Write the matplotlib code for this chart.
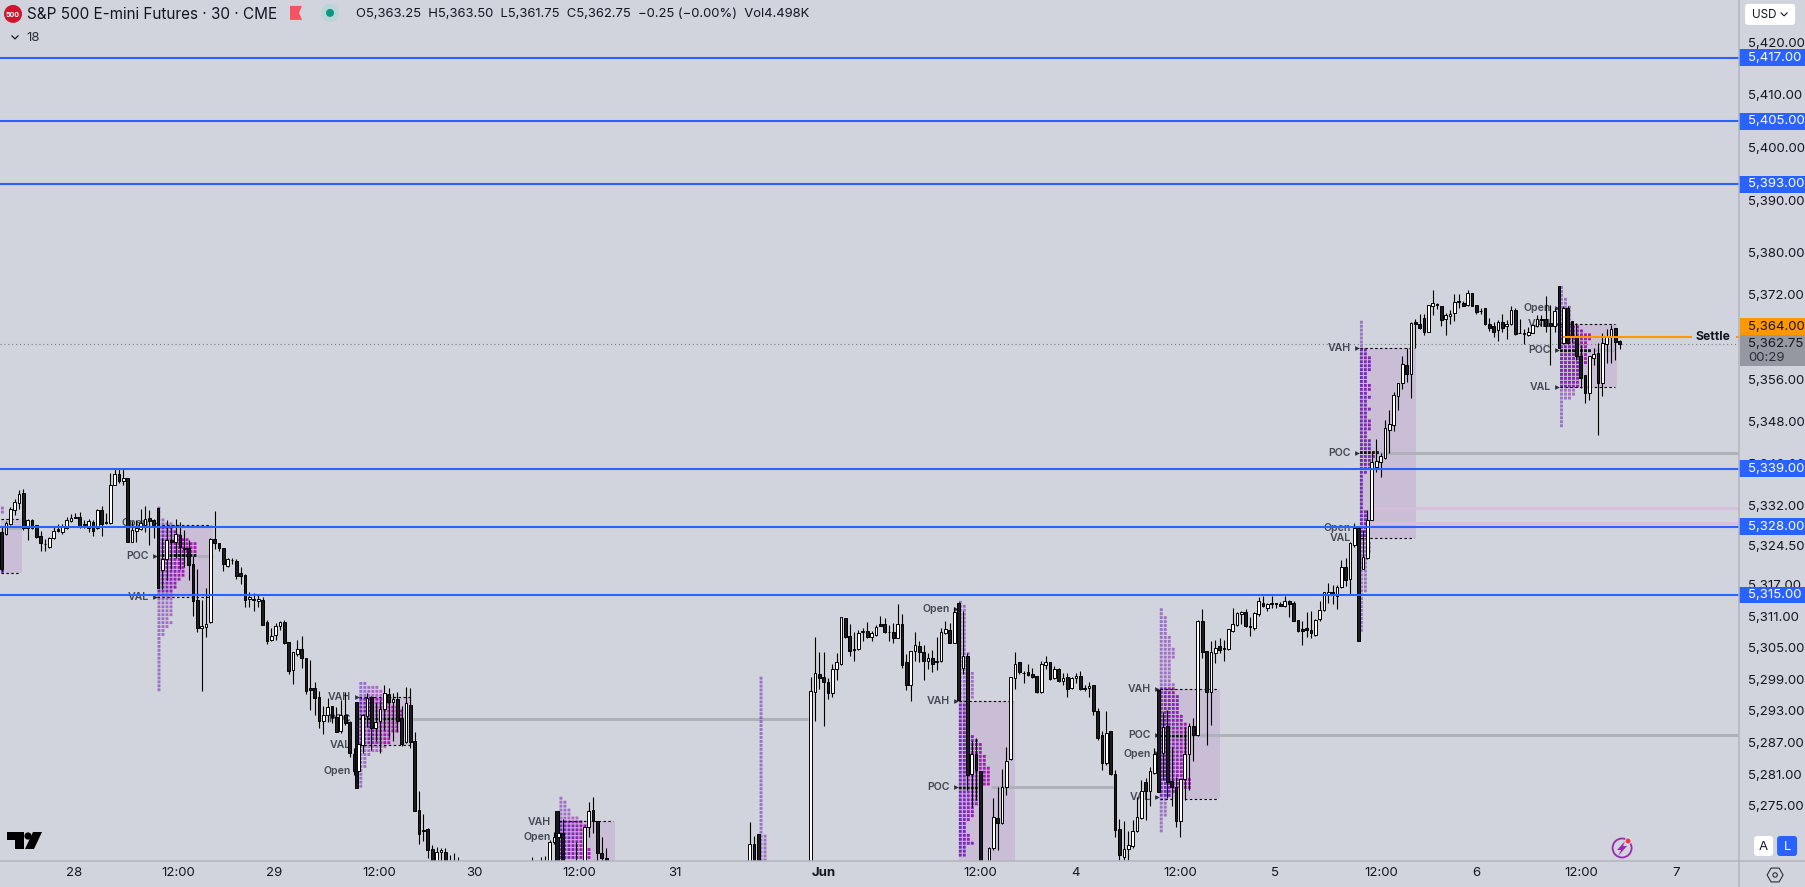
import numpy as np
import matplotlib
matplotlib.use("Agg")
import matplotlib.pyplot as plt
from matplotlib.patches import Rectangle, Circle, Polygon, FancyBboxPatch, RegularPolygon

plt.rcParams['font.family'] = ['Inter', 'DejaVu Sans']

nan = float("nan")

# 30 min bars, index 0 is the left edge of the picture. nan = bar is off the chart
opens = [
    5327,5326.6,5328.4,5331.2,5332.4,5334.3,5327.7,5329.3,5328.3,5326.2,
    5324.7,5324.2,5325.8,5327.5,5327,5327.7,5329.1,5329.8,5329.8,5328.5,
    5327.7,5328.9,5327.7,5331.2,5328.9,5328.6,5335.8,5338,5336.7,5337.2,
    5325.1,5327.2,5327.5,5328.3,5329.6,5329.3,5331.6,5319.8,5321.8,5325.4,
    5325,5326.4,5324,5324,5320.8,5314.1,5308.7,5309,5309.8,5325.6,
    5324.8,5323.9,5320.5,5321.6,5321.4,5319.1,5318.8,5314.2,5314.2,5313.8,
    5314.1,5309.8,5306.4,5307.4,5309.2,5309.8,5306,5300.8,5303.8,5304.7,
    5303,5297.3,5297.3,5295.6,5291,5292.3,5293.9,5291.9,5289.2,5292.3,
    5290.95,5284.8,5281.6,5286.5,5292.1,5295.7,5289.7,5291,5293.3,5296.2,
    5294.6,5295.3,5291.6,5287,5294.1,5287.3,5274.2,5270.4,5270.5,5266.7,
    5263.9,5266.1,5266.1,5263,5263,5263] + [nan]*16 + [
    5263,nan,5263,5263,5262,5268,5269.1,5269.8,nan,nan,5264,nan,5262,5271,5274.2,5272,5266,5265] + [nan]*32 + [
    5262,5267.7,5269.7] + [nan]*11 + [
    5260,5296.5,5300,5299.4,5298.4,5296.3,5301,5301.9,5310.6,5307.2,
    5304.7,5304.7,5307.9,5308.2,5307.1,5307.4,5309.4,5309.5,5308,5308,
    5306.9,5309.5,5302.2,5297.9,5304.4,5305.3,5304.1,5302.5,5303,5302.5,
    5302.4,5307.7,5308.4,5305.9,5313.5,5301.1,5303.4,5281,5284.8,5281.5,nan,
    5263,5266.9,5272.6,5271.7,5278.5,5283.8,5299.2,5302.2,5300.2,5300.3,
    5300,5299.6,5296.5,5301.7,5302.2,5299.2,5301,5298.6,5299.4,5297.3,
    5299.2,5299.6,5297.3,5297.3,5298,5293,5288.4,5283,5289.2,5281,
    5270.5,5265.3,5266.7,5267.3,5270.1,5272.6,5279.4,5277.7,5281.1,5297,
    5284.9,5290.1,5279.6,5278.6,5272,5280,5284.8,5290.1,5288.4,5310.1,
    5304.3,5296.5,5304,5305.3,5304.9,5304.8,5308.2,5309.3,5311.3,5311.7,
    5309.2,5308.7,5311.4,5313.4,5312.6,5313.4,5313.4,5313.2,5313,5313.9,
    5313.5,5310.2,5308.5,5308.7,5308.4,5307.4,5310.4,5312.2,5315.2,5315.5,
    5314.8,5316.5,5320.3,5318,5324.5,5327.7,5320,5322,5329.3,5339.4,
    5340.2,5341.1,5346.4,5347.3,5352.8,5355.2,5358.7,5356.9,5366.8,5366.4,
    5367.7,5365,5369.8,5370.2,5369.8,5367.4,5367.9,5368.6,5370.8,5370.5,
    5370,5372.3,5370,5369,5369.5,5366.4,5366.1,5365.3,5366.8,5366,
    5366.4,5369.1,5364.7,5364.7,5364.3,5364.8,5366,5367.5,5367.5,5366.6,
    5366,5373.6,5362.8,5369.6,5367,5364,5360.3,5356.8,5353.3,5360.1,
    5360.9,5355.2,5362.7,5364,5365.7,5363.25]

closes = [
    5320,5328.6,5331.3,5332.6,5334.1,5327.7,5329.3,5327.7,5326.1,5324.8,
    5324.6,5325.8,5327.1,5327.2,5327.9,5329.3,5329.6,5329.65,5328,5328.2,
    5329.1,5327.2,5331.2,5328.5,5328.6,5335.9,5338,5336.7,5337.2,5325,
    5327.4,5327.7,5328.6,5329.4,5329.1,5328.3,5316.3,5321.9,5325.4,5325,
    5326.6,5324.2,5323.7,5320.7,5313.8,5308.7,5309.1,5309.5,5325.6,5324.8,
    5324,5320.8,5321.8,5321.7,5318.6,5318.6,5314.1,5314.6,5314.1,5314.3,
    5309.3,5306.3,5307.2,5309.1,5309.8,5305.8,5300.6,5304.1,5304.7,5303.1,
    5296.8,5297,5295.5,5291,5292.3,5293.8,5291.8,5289,5292.3,5290.6,
    5285,5281.5,5286.7,5292.3,5295.4,5289.8,5290.8,5293.3,5296.3,5294.6,
    5295.2,5291,5286.7,5294.4,5287.1,5273.9,5269.6,5270.1,5266.6,5264,
    5266.1,5266.5,5263,5262,5262,5262] + [nan]*16 + [
    5262,nan,5262,5262,5268,5269.1,5269.8,5262,nan,nan,5262,nan,5271,5274,5272,5266,5265,5263.5] + [nan]*32 + [
    5267.7,5262,5262] + [nan]*11 + [
    5296.7,5300.1,5299.2,5298.4,5296.3,5301,5302.2,5310.8,5307.1,5304.4,
    5304.6,5307.7,5308.2,5307.1,5307.7,5309,5309.2,5307.9,5307.9,5306.8,
    5309.5,5301.7,5297.9,5304.4,5305.5,5304.1,5302.5,5303,5301.8,5302.2,
    5307.9,5308.5,5305.9,5311.8,5295.1,5303.4,5280.8,5284.8,5281.8,5262,nan,
    5266.9,5272.8,5271.7,5278.5,5283.4,5299.4,5301.9,5300.3,5300.1,5299.8,
    5299.4,5296.5,5301.9,5302.2,5299,5301,5298.6,5299.2,5297.2,5299.2,
    5299.6,5297.2,5297.2,5297.8,5292.9,5287.9,5283.1,5288.8,5281,5270.3,
    5265.6,5266.7,5267.5,5270.1,5272.8,5277.7,5277.7,5281.5,5284.8,5277.5,
    5290,5279.4,5278.5,5272,5280,5284.8,5290.1,5288.4,5310.1,5304.1,
    5296.5,5304.1,5304.9,5304.6,5304.7,5308.5,5309.4,5311.5,5311.7,5309.2,
    5309,5311.5,5313.9,5312.9,5313.2,5313.2,5313.2,5313,5313.9,5313.2,
    5310.1,5308.2,5308.2,5308.4,5307.7,5310.2,5312.2,5315.5,5315.6,5315.1,
    5316.5,5320.3,5317.9,5324.8,5327.7,5306.3,5322.3,5329.3,5340.3,5340.5,
    5341.4,5346.7,5347.4,5352.9,5355.2,5358.8,5356.9,5366.6,5366.5,5365.7,
    5365,5370,5370.4,5370,5367.2,5368.2,5368.4,5370.7,5370.6,5369.9,
    5372.3,5369.9,5368.8,5369,5366.4,5365.8,5365,5366.8,5365.8,5366.4,
    5369.1,5364.6,5364.7,5364.5,5365,5366.2,5367.4,5367.2,5366,5366,
    5369,5362,5369.6,5362.8,5364.1,5360.3,5356.3,5353.3,5360.3,5360.8,
    5355.2,5362.8,5364.1,5365.5,5363.1,5362.75]

highs = [
    5328,5329,5331.7,5333.2,5335,5335.1,5329.4,5329.4,5328.3,5327.2,
    5325.6,5326.1,5328,5328.5,5328.4,5329.8,5330.4,5330.6,5330.8,5329.3,
    5329.4,5329.3,5331.3,5331.9,5330.6,5338.1,5339,5338.9,5339,5337.2,
    5329,5329.2,5331.3,5331.9,5331.2,5329.4,5331.6,5325.8,5329.3,5328.3,
    5329.4,5328.9,5327.3,5325.5,5322.5,5319.9,5314,5316.3,5325.8,5331,
    5324.9,5324,5322,5322,5321.8,5320.3,5319,5315.5,5315.3,5315,
    5314.7,5310.3,5308.7,5309.6,5310.1,5310.3,5306.1,5304.2,5306.5,5307.2,
    5303,5302.7,5298.4,5296.8,5294,5295.4,5293.9,5293.8,5295,5296.6,
    5291,5285.9,5287,5292.4,5296.3,5295.8,5294.4,5295.1,5298,5297.3,
    5296.3,5296.5,5293.9,5297.6,5297.3,5289,5277.7,5273.4,5270.7,5267.5,
    5267.2,5266.9,5266.9,5265.6,5266,5265.3] + [nan]*16 + [
    5265.3,nan,5265.3,5265.5,5268.5,5270,5270,5272.5,nan,nan,5268,nan,5271,5275.6,5276.6,5272,5269,5266.9] + [nan]*32 + [
    5271.8,5269.2,5269.7] + [nan]*11 + [
    5299.4,5307,5304.1,5304.1,5299.2,5301.9,5303.9,5310.9,5310.6,5309.5,
    5308,5308.4,5308.8,5309.8,5308.1,5309.3,5311,5310.6,5309.3,5309.6,
    5313.3,5311.4,5303.7,5304.4,5308,5306.3,5305.5,5303.9,5304.6,5307,
    5308.7,5310.1,5309.6,5312.8,5313.6,5312,5303.9,5287.2,5287.8,5281.5,nan,
    5267.2,5276.4,5278.6,5282,5286.1,5299.4,5304.1,5302.2,5300.5,5301.9,
    5301.1,5299.7,5302.5,5303.4,5302.2,5301.5,5301.1,5300.1,5300.1,5299.4,
    5300.1,5300.5,5297.9,5298.4,5298,5293.6,5289.1,5292.9,5289.2,5281.8,
    5272.4,5272,5270.1,5272.3,5276.7,5279.9,5280.2,5282.4,5285.9,5297,
    5292.7,5293.2,5286.2,5280.5,5280,5290,5290.6,5291.6,5310.3,5312.3,
    5304.4,5306.3,5306.5,5306.8,5306.5,5308.6,5312.5,5311.8,5312,5312.4,
    5310.9,5311.7,5314.7,5314.9,5313.4,5314.9,5313.4,5313.7,5314.9,5314.1,
    5313.9,5310.2,5310.1,5311.8,5312,5310.4,5313.9,5315.6,5317.2,5316.9,
    5316.9,5321.7,5322,5325,5328.6,5327.7,5327.3,5331.2,5342,5344.6,
    5341.9,5348.2,5350.1,5353.6,5355.2,5360.3,5361.9,5366.8,5367.4,5368.3,
    5368.3,5370.1,5373,5370.5,5369.8,5368.5,5369.1,5372.1,5372.1,5370.8,
    5373,5372.3,5370,5369.5,5369.5,5367.6,5366.8,5367.2,5368.3,5367.2,
    5369.8,5369.5,5367.4,5365.5,5365.9,5366.5,5368.2,5368.2,5371.7,5370.1,
    5369.5,5373.6,5369.8,5369.8,5367,5366.6,5362.5,5356.8,5360.3,5361.9,
    5362.8,5364.7,5365.5,5366.3,5365.7,5363.5]

lows = [
    5319.5,5326.4,5328.3,5330.2,5331.3,5327.4,5325.5,5327.6,5325.9,5323.4,
    5323.4,5324,5325.7,5327,5326.6,5327.5,5328.9,5329.6,5327.7,5327.7,
    5327,5326.2,5327.5,5326.2,5328.5,5328.5,5335.8,5336.2,5335.9,5325,
    5325,5325,5327.3,5327,5324.5,5325.8,5316.3,5316.1,5317.9,5320,
    5322,5320,5320.4,5317.9,5311.1,5308,5296.7,5307,5309.6,5323.7,
    5323.4,5319.6,5320.4,5320.9,5318,5317.1,5312.8,5312.8,5311.9,5312.8,
    5309.3,5305.7,5306.2,5306.5,5308.4,5305.7,5300,5298.1,5303.4,5301.1,
    5296.2,5293.2,5292.2,5289.7,5288.6,5290.8,5290.6,5289,5288.7,5290.3,
    5284.2,5280.8,5281.4,5285,5290,5285.6,5287.2,5285,5289.4,5288.1,
    5287.2,5289,5286.3,5286.8,5285.9,5273.9,5267.8,5268.2,5265,5264,
    5263,5263,5263,5261,5261,5261] + [nan]*16 + [
    5262,nan,5262,5262,5262,5267.8,5269,5262,nan,nan,5261,nan,5262,5269,5269.8,5264,5263,5263] + [nan]*32 + [
    5262,5262,5262] + [nan]*11 + [
    5260,5291,5297.2,5290.1,5295.3,5295.6,5298.9,5301.7,5306.8,5303.4,
    5302.5,5304.6,5306.3,5306.8,5306.2,5307.3,5309.2,5307.7,5306.3,5305.8,
    5306.8,5301.1,5297,5294.9,5302.4,5302.2,5298.9,5301,5300.3,5300.8,
    5302.2,5307.6,5305.8,5305.8,5295.1,5300,5278,5274.8,5276,5262,nan,
    5263,5266.5,5266.5,5271.5,5277,5283.6,5297.1,5300,5298.2,5299.6,
    5299.3,5296.4,5296.4,5301,5298.8,5299,5298.4,5298,5295.7,5297.2,
    5298.2,5297,5296.7,5295.7,5292.2,5287.5,5281.8,5282.8,5280.9,5269,
    5264.6,5264.6,5264.6,5267,5270,5272.4,5272.3,5275,5281,5277.5,
    5279.9,5276.4,5275,5271,5269.1,5276,5278,5283.4,5288.3,5303,
    5286.5,5290.3,5302,5304,5302.5,5304.6,5308,5309.2,5309.5,5309,
    5307.2,5308.4,5311,5312.7,5312,5312.5,5312.6,5312.9,5312.8,5310.9,
    5310,5307.9,5305.5,5307,5306.8,5307.2,5310,5312,5313.4,5313.2,
    5312.3,5316.4,5316.8,5315.2,5324.2,5306.3,5319.9,5321.8,5329.2,5338.4,
    5337.5,5340.8,5341.9,5346.2,5350.1,5354.1,5355.5,5352.4,5361.9,5365.5,
    5364.4,5364.9,5368.2,5369.3,5366,5364.4,5366.5,5367,5369.6,5369.9,
    5369.9,5369.9,5368.3,5368.3,5366.2,5365.2,5364,5363.3,5365,5363.6,
    5366.3,5364.4,5364.7,5362.7,5364.2,5364.7,5365.9,5366,5365,5358.7,
    5365,5362,5362.7,5362.7,5363,5359.6,5354.4,5351.5,5352,5358.7,
    5345.4,5352.7,5359,5359,5359.6,5361.75]

# the dark session bars that sit behind a white candle
session_bar_idx = [81.7, 127.7]
session_bar_top = [5294.6, 5274]
session_bar_bottom = [5278.3, 5262]

# day ticks along the bottom
tick_pos = [16.7, 40.6, 62.7, 86.8, 108.6, 132.8, 154.8, 188.9, 225, 246.8, 270.9, 292.8, 317.1, 339, 363.1, 384.9]
tick_labels = ['28', '12:00', '29', '12:00', '30', '12:00', '31', 'Jun', '12:00', '4', '12:00', '5', '12:00', '6', '12:00', '7']

price_ticks = [5420, 5410, 5400, 5390, 5380, 5372, 5356, 5348, 5340, 5332, 5324.5, 5317, 5311, 5305, 5299, 5293, 5287, 5281, 5275]
blue_levels = [5417, 5405, 5393, 5339, 5328, 5315]
settle = 5364
last_price = 5362.75

# volume profile rows per session, top row first, number of dots per row
prof0 = [1, 1] + [0]*13 + [1, 1]
prof1 = [1,1,1,2,4,4,5,6,8,10,10,10,10,7,7,7,7,7,6,5,5,4,4,4,4,4,4,4,3,4,3,2,2] + [1]*14
prof2 = [2,5,6,7,7,8,10,11,11,11,10,10,10,8,8,8,7,6,3,2,2,2,1,1,1,1,1]
prof3 = [1,2,2,3,3,5,6,7,7,7,7,6,6,8,8,8]
prof4 = [1]*40 + [2]*7
prof5 = [1,2,2,2,2,2,2,2,2,2,2,2,2,3,3,3,3,3,4,4,4,4,4,4,4,2,2,2,2,2,2,2,2,2,4,5,6,6,6,7,7,7,8,8,8,8,8,6,6,5,5,5,4,4,4,3,2,2,2,3,3,4,2,2,2]
prof6 = [1,1,2,2,2,2,2,3,3,3,4,4,4,3,3,3,3,3,3,4,4,4,5,5,5,5,5,6,6,7,7,7,7,7,7,7,7,7,7,7,7,7,7,8,8,8,4,3,2,2,2,2,2,1,1,1,1]
prof7 = [1]*7 + [2,2,3,3,3,3,2,2,2,3,3,2,3,2,2,3,2,2,3,3,3,2,2,3,3,3,5,4,3,3,3,2] + [1]*9 + [2]*8 + [3]*3 + [2]*10 + [1]*10
prof8 = [1,1,1,2,2,3,3,3,3,3,5,6,8,8,7,7,8,7,7,7,6,5,5,5,5,5,4,4,3] + [1]*7
profiles = [prof0, prof1, prof2, prof3, prof4, prof5, prof6, prof7, prof8]
prof_start = [0.2, 36.2, 82.6, 128.6, 174.6, 220.4, 266.6, 312.6, 358.6]
prof_top = [5331.5, 5331.5, 5298.2, 5276.4, 5299.2, 5313.6, 5312.2, 5366.8, 5373.4]
prof_end = [4.6, 48.6, 94.3, 141.1, nan, 233, 280.1, 325.1, 371.3]
prof_vah = [5329.4, 5328.2, 5295.6, 5272, 5260, 5294.8, 5297.2, 5361.9, 5366.4]
prof_val = [5319.1, 5314.6, 5286.5, 5260, 5260, 5260, 5276.3, 5325.8, 5354.5]
prof_poc = [5327.7, 5322.4, 5291.4, nan, nan, 5278.5, 5288.4, 5342, 5361.5]

# naked poc lines, price / from / to
poc_price = [5327.7, 5322.4, 5291.4, 5278.5, 5288.4, 5342, 5361.5]
poc_from = [1, 45, 94, 227.4, 272.5, 316.9, 366]
poc_to = [4.6, 48.6, 185.5, 255.5, 399.5, 399.5, 370.9]

# session labels
label_text = ['Open','POC','VAL', 'VAH','POC','VAL','Open', 'VAH','Open', 'Open','VAH','POC',
              'VAH','POC','Open','VAL', 'VAH','POC','Open','VAL', 'Open','VAH','POC','VAL']
label_prof = [1,1,1, 2,2,2,2, 3,3, 5,5,5, 6,6,6,6, 7,7,7,7, 8,8,8,8]
label_price = [5328.7,5322.4,5314.6, 5295.6,5291.4,5286.5,5281.65, 5272,5269.1, 5312.3,5294.8,5278.5,
               5297.2,5288.4,5284.9,5276.6, 5361.9,5342,5327.7,5325.8, 5369.5,5366.4,5361.5,5354.5]

BG = '#d1d4dc'
BLUE = '#2962ff'
TXT = '#131722'

fig = plt.figure(figsize=(18.051, 8.871), dpi=100, facecolor=BG)
ax = fig.add_axes([0, 26/887, 1739/1805, 861/887], facecolor=BG)
ax.set_xlim(-0.345, 399.43)
ax.set_ylim(5264.48, 5428.02)
for s in ax.spines.values():
    s.set_visible(False)

# value area boxes
for i in range(len(profiles)):
    if not np.isnan(prof_end[i]):
        ax.add_patch(Rectangle((prof_start[i]-0.4, prof_val[i]), prof_end[i]-prof_start[i]+0.4,
                               prof_vah[i]-prof_val[i], fc='#9c27b0', alpha=0.13, lw=0, zorder=1))
        ax.hlines([prof_vah[i], prof_val[i]], prof_start[i]-0.4, prof_end[i]-0.5, color='black', lw=0.8,
                  linestyles=(0, (2.2, 2.2)), zorder=2.6)

ax.hlines(poc_price, poc_from, poc_to, color='#b0b2ba', lw=2.2, zorder=1.5)
ax.hlines([5331.5, 5328.6], [315, 315], [399.5, 399.5], color='#d7bde0', lw=2, zorder=1.5)

# volume profile dots
for i, counts in enumerate(profiles):
    xs, ys, cols = [], [], []
    for r, n in enumerate(counts):
        price = prof_top[i] - r*0.75
        is_poc = not np.isnan(prof_poc[i]) and abs(price-prof_poc[i]) < 0.375
        in_va = prof_val[i] <= price <= prof_vah[i]
        for c in range(n):
            t = min(c/7, 1)
            rgb = (0.46+0.2*t, 0.17-0.07*t, 0.72-0.02*t)
            if is_poc:
                col = (0.08, 0.07, 0.12, 1)
            elif in_va:
                col = rgb + (1,)
            else:
                col = rgb + (0.58,)
            xs.append(prof_start[i] + c*0.92)
            ys.append(price)
            cols.append(col)
    ax.scatter(xs, ys, marker='s', s=4.4, c=cols, linewidths=0, zorder=2, snap=False)

# session labels with the little arrow
for t, p, price in zip(label_text, label_prof, label_price):
    ax.annotate(t, (prof_start[p], price), xytext=(-7.5, 0), textcoords='offset points', ha='right', va='center',
                fontsize=7.6, fontweight='semibold', color='#2a2e39', alpha=0.85, zorder=2.5)
    ax.plot(prof_start[p]-0.95, price, marker='>', ms=3.4, color='#2a2e39', mew=0, zorder=2.5)

# candles
o = np.array(opens)
c = np.array(closes)
h = np.array(highs)
l = np.array(lows)
idx = np.arange(len(o))
ok = ~np.isnan(o)
up = ok & (c >= o)
down = ok & (c < o)

ax.vlines(idx[ok], l[ok], h[ok], color='black', lw=0.8, zorder=3)
ax.bar(session_bar_idx, np.array(session_bar_top)-np.array(session_bar_bottom), bottom=session_bar_bottom, width=0.7,
       color=TXT, edgecolor='black', lw=0.7, zorder=3.1)
ax.bar(idx[down], (o-c)[down], bottom=c[down], width=0.62, color='#1b1b22', edgecolor='black', lw=0.7, zorder=3.2)
ax.bar(idx[up], (c-o)[up], bottom=o[up], width=0.62, color='white', edgecolor='black', lw=0.7, zorder=3.2)

# price lines
ax.axhline(last_price, color='#787b86', lw=0.8, linestyle=(0, (1, 2.5)), zorder=1.2)
ax.hlines(blue_levels, -0.345, 399.43, color=BLUE, lw=1.5, zorder=4)
ax.hlines(settle, 359, 388.6, color='#ff9800', lw=1.5, zorder=4)
ax.hlines(settle, 398.8, 399.43, color='#ff9800', lw=1.5, zorder=4)
ax.annotate('Settle', (389.5, settle), ha='left', va='center', fontsize=8.8, fontweight='bold', color=TXT, zorder=4)

# axes
ax.yaxis.tick_right()
ax.set_yticks(price_ticks, [f'{p:,.2f}' for p in price_ticks])
ax.tick_params(axis='y', length=0, pad=6.2, labelsize=9.5, labelcolor=TXT)
ax.set_xticks(tick_pos, tick_labels)
ax.tick_params(axis='x', length=0, pad=4.5, labelsize=9.5, labelcolor=TXT)
ax.get_xticklabels()[7].set_fontweight('bold')

# blue price labels on the scale
trans = ax.get_yaxis_transform()
wid = 66/1739
for p in blue_levels:
    ax.add_patch(Rectangle((1, p-1.6), wid, 3.2, transform=trans, fc=BLUE, lw=0, clip_on=False, zorder=5))
    ax.text(1.0052, p, f'{p:,.2f}', transform=trans, ha='left', va='center', fontsize=9.5, color='white', zorder=6)

# chrome, in pixels of the picture
ov = fig.add_axes([0, 0, 1, 1], facecolor='none')
ov.set_xlim(0, 1805)
ov.set_ylim(887, 0)
ov.axis('off')
ov.plot([1739, 1739], [0, 887], color='#b2b5be', lw=1.1)
ov.plot([0, 1805], [861, 861], color='#b2b5be', lw=1.1)

# settle and last price tags, stacked so they don't cover each other
ov.add_patch(Rectangle((1739.5, 318), 65.5, 17, fc='#ff9800', lw=0))
ov.text(1748, 326.5, f'{settle:,.2f}', fontsize=9.5, color=TXT, va='center')
ov.add_patch(Rectangle((1739.5, 335), 65.5, 31, fc='#9598a1', lw=0))
ov.text(1748, 343.5, f'{last_price:,.2f}', fontsize=9.5, color=TXT, va='center')
ov.text(1748, 357.5, '00:29', fontsize=9.5, color='#2a2e39', va='center')

ov.add_patch(Circle((13, 14), 9, fc='#d0152f', lw=0))
ov.text(13, 14.5, '500', color='white', fontsize=5, fontweight='bold', ha='center', va='center')
ov.text(27, 14, 'S&P 500 E-mini Futures · 30 · CME', fontsize=11, color=TXT, va='center')
ov.add_patch(Polygon([(290, 6), (302, 6), (299, 13), (302, 20), (290, 20)], fc='#f7525f', lw=0))
ov.add_patch(Circle((330, 13), 9, fc='#b9d5d8', lw=0))
ov.add_patch(Circle((330, 13), 4, fc='#089981', lw=0))
ov.text(356, 14, 'O5,363.25  H5,363.50  L5,361.75  C5,362.75  −0.25 (−0.00%)  Vol4.498K', fontsize=9.4, color=TXT, va='center')
ov.plot([12, 15, 18], [36, 39, 36], color=TXT, lw=0.9)
ov.text(26, 38, '18', fontsize=9.5, color='#2a2e39', va='center')

ov.add_patch(FancyBboxPatch((1745, 4), 50, 21, boxstyle='round,pad=0,rounding_size=3', fc='white', lw=0))
ov.text(1752, 15, 'USD', fontsize=8.4, color=TXT, va='center')
ov.plot([1781, 1784, 1787], [13, 16, 13], color=TXT, lw=0.8)

ov.add_patch(Polygon([(7, 832), (24, 832), (24, 849), (15, 849), (15, 840), (7, 840)], fc='black', lw=0))
ov.add_patch(Circle((28, 836), 3.6, fc='black', lw=0))
ov.add_patch(Polygon([(33, 832), (42, 832), (34, 849), (25, 849)], fc='black', lw=0))

ov.add_patch(Circle((1622, 848), 9.5, fc='none', ec='#9c27b0', lw=1.3))
ov.add_patch(Polygon([(1625, 841), (1617, 850), (1621, 850), (1618, 856), (1627, 846), (1623, 846)], fc='#9c27b0', lw=0))
ov.add_patch(Circle((1628, 841), 3, fc='#f23645', ec='white', lw=0.5))

ov.add_patch(FancyBboxPatch((1754, 836), 19, 20, boxstyle='round,pad=0,rounding_size=3', fc='white', lw=0))
ov.text(1763.5, 846.5, 'A', fontsize=9.5, color=TXT, ha='center', va='center')
ov.add_patch(FancyBboxPatch((1777, 836), 20, 20, boxstyle='round,pad=0,rounding_size=3', fc=BLUE, lw=0))
ov.text(1787, 846.5, 'L', fontsize=9.5, color='white', ha='center', va='center')
ov.add_patch(RegularPolygon((1775, 875), 6, radius=8, orientation=np.pi/2, fc='none', ec='#2a2e39', lw=0.8))
ov.add_patch(Circle((1775, 875), 2.2, fc='none', ec='#2a2e39', lw=0.8))

fig.savefig('out.png', dpi=100, facecolor=BG)
